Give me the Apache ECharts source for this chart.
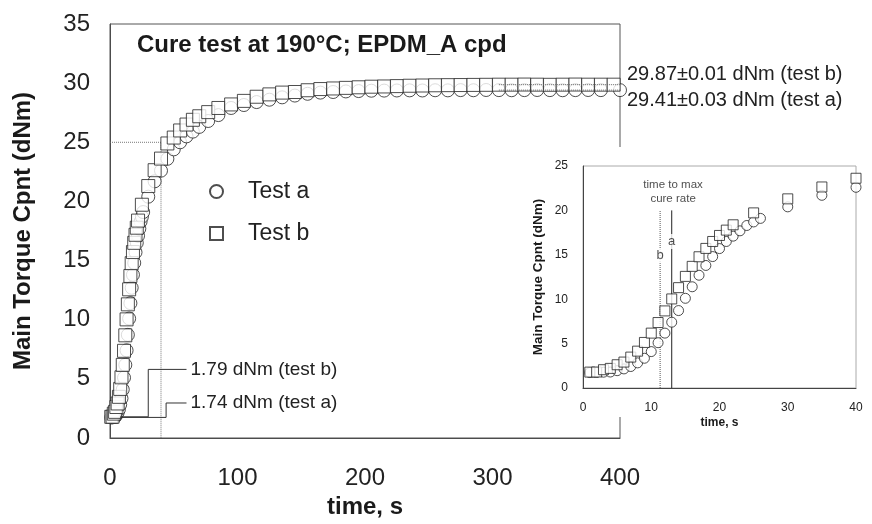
<!DOCTYPE html>
<html><head><meta charset="utf-8">
<script src="https://cdn.jsdelivr.net/npm/echarts@6/dist/echarts.min.js"></script>
<style>html,body{margin:0;padding:0;background:#fff}#c{width:872px;height:524px}</style>
</head><body><div id="c"></div>
<script>
// ---- Test a (circles), 1 s sampling during the rise (also shown in inset)
const timeA_early = [1,2,3,4,5,6,7,8,9,10,11,12,13,14,15,16,17,18,19,20,21,22,23,24,25,26,30,35,40];
const torqueA_early = [1.74,1.75,1.78,1.80,1.95,2.15,2.42,2.83,3.35,4.10,5.10,6.18,7.41,8.72,10.1,11.4,12.7,13.8,14.8,15.7,16.5,17.1,17.7,18.3,18.7,19.1,20.4,21.7,22.6];
// ---- Test b (squares), 1 s sampling during the rise
const timeB_early = [1,2,3,4,5,6,7,8,9,10,11,12,13,14,15,16,17,18,19,20,21,22,25,30,35,40];
const torqueB_early = [1.79,1.80,2.06,2.21,2.62,2.92,3.48,4.15,5.13,6.18,7.37,8.68,10.03,11.30,12.57,13.70,14.78,15.72,16.50,17.18,17.78,18.38,19.72,21.30,22.64,23.62];
// ---- later part of the cure curves
const timeA_late = [45,50,55,60,65,70,77,85,95,105,115,125,135,145,155,165,175,185,195,205,215,225,235,245,255,265,275,285,295,305,315,325,335,345,355,365,375,385,400];
const torqueA_late = [23.6,24.4,25.0,25.5,25.9,26.3,26.8,27.3,27.9,28.15,28.4,28.6,28.8,28.95,29.1,29.2,29.25,29.3,29.33,29.36,29.37,29.38,29.39,29.38,29.40,29.39,29.41,29.40,29.42,29.41,29.40,29.41,29.42,29.41,29.40,29.41,29.42,29.41,29.41];
const timeB_late = [45,50,55,60,65,70,77,85,95,105,115,125,135,145,155,165,175,185,195,205,215,225,235,245,255,265,275,285,295,305,315,325,335,345,355,365,375,385,395];
const torqueB_late = [24.9,25.4,26.0,26.5,26.9,27.2,27.55,27.9,28.2,28.5,28.85,29.05,29.2,29.25,29.4,29.5,29.55,29.6,29.65,29.7,29.72,29.75,29.78,29.8,29.82,29.83,29.84,29.85,29.86,29.87,29.87,29.88,29.87,29.86,29.87,29.88,29.87,29.87,29.87];
// ---- annotation values
const minA = 1.74, minB = 1.79;
const maxA = 29.41, maxB = 29.87;
const tMaxRateA = 13.0, tMaxRateB = 11.3;
// ---- tick labels
const mainXTicks = [0,100,200,300,400];
const mainYTicks = [0,5,10,15,20,25,30,35];
const insetXTicks = [0,10,20,30,40];
const insetYTicks = [0,5,10,15,20,25];

const FONT = '"Liberation Sans", Arial, Helvetica, sans-serif';
const zip = (t, v) => t.map((x, i) => [x, v[i]]);
const mainA = zip(timeA_early.concat(timeA_late), torqueA_early.concat(torqueA_late));
const mainB = zip(timeB_early.concat(timeB_late), torqueB_early.concat(torqueB_late));
const insetA = zip(timeA_early, torqueA_early);
const insetB = zip(timeB_early, torqueB_early);

const markerStyle = {color:'#fff', borderColor:'#222', borderWidth:1};
const chart = echarts.init(document.getElementById('c'), null, {renderer:'canvas'});

function axisCommon(ticks, fs, margin) {
  return {
    type:'value', min:ticks[0], max:ticks[ticks.length-1], interval:ticks[1]-ticks[0],
    axisLine:{show:true, lineStyle:{color:'#444', width:1}},
    axisTick:{show:false}, splitLine:{show:false},
    axisLabel:{fontSize:fs, margin:margin, color:'#222', fontFamily:FONT}
  };
}

const option = {
  animation:false,
  backgroundColor:'#fff',
  textStyle:{fontFamily:FONT, color:'#222'},
  title:{text:'Cure test at 190°C; EPDM_A cpd', left:137, top:33, padding:0,
    textStyle:{fontSize:24, fontWeight:'bold', color:'#1a1a1a', fontFamily:FONT}},
  legend:{orient:'vertical', left:209, top:180, padding:0, itemWidth:13, itemHeight:13, itemGap:19,
    selectedMode:false, data:['Test a','Test b'],
    textStyle:{fontSize:23, color:'#222', fontFamily:FONT, padding:[0,0,0,20]}},
  grid:[
    {left:110, right:252, top:24, bottom:82, show:true, borderColor:'#555', borderWidth:1, z:2},
    {left:583, width:273, top:166, height:222, show:true, borderColor:'#aaa', borderWidth:1, backgroundColor:'#fff', z:4}
  ],
  graphic:[{type:'rect', shape:{x:600, y:147, width:40, height:270}, style:{fill:'#fff'}, z:3}],
  xAxis:[
    Object.assign(axisCommon(mainXTicks, 24, 28), {gridIndex:0, name:'time, s', nameLocation:'middle', nameGap:57,
      nameTextStyle:{fontSize:24, fontWeight:'bold', color:'#1a1a1a', fontFamily:FONT}}),
    Object.assign(axisCommon(insetXTicks, 12, 14), {gridIndex:1, z:5, name:'time, s', nameLocation:'middle', nameGap:29,
      nameTextStyle:{fontSize:12, fontWeight:'bold', color:'#1a1a1a', fontFamily:FONT}})
  ],
  yAxis:[
    Object.assign(axisCommon(mainYTicks, 24, 20), {gridIndex:0, name:'Main Torque Cpnt (dNm)', nameLocation:'middle', nameGap:75,
      nameTextStyle:{fontSize:24, fontWeight:'bold', color:'#1a1a1a', fontFamily:FONT}}),
    Object.assign(axisCommon(insetYTicks, 12, 15), {gridIndex:1, z:5, name:'Main Torque Cpnt (dNm)', nameLocation:'middle', nameGap:38,
      nameTextStyle:{fontSize:13.5, fontWeight:'bold', color:'#1a1a1a', fontFamily:FONT}})
  ],
  series:[
    // guide for inset region
    {type:'line', xAxisIndex:0, yAxisIndex:0, data:[[0,25],[40,25],[40,0]], symbol:'none', silent:true, z:1,
      lineStyle:{color:'#777', width:1, type:'dotted'}},
    // main data
    {name:'Test a', type:'scatter', xAxisIndex:0, yAxisIndex:0, data:mainA, symbol:'circle', symbolSize:13, itemStyle:markerStyle, z:2},
    {name:'Test b', type:'scatter', xAxisIndex:0, yAxisIndex:0, data:mainB, symbol:'rect', symbolSize:13, itemStyle:markerStyle, z:2},
    // plateau annotations
    {type:'line', xAxisIndex:0, yAxisIndex:0, clip:false, data:[[305,maxB],[429,maxB]], symbol:'none', silent:true, z:3,
      lineStyle:{color:'#666', width:1, type:'dotted'},
      endLabel:{show:true, formatter:maxB.toFixed(2)+'±0.01 dNm (test b)', distance:6, offset:[0,-10], fontSize:20, color:'#222', fontFamily:FONT}},
    {type:'line', xAxisIndex:0, yAxisIndex:0, clip:false, data:[[305,maxA],[429,maxA]], symbol:'none', silent:true, z:3,
      lineStyle:{color:'#666', width:1, type:'dotted'},
      endLabel:{show:true, formatter:maxA.toFixed(2)+'±0.03 dNm (test a)', distance:6, offset:[0,10], fontSize:20, color:'#222', fontFamily:FONT}},
    // minimum torque leaders
    {type:'line', xAxisIndex:0, yAxisIndex:0, data:[[8,minB],[30,minB],[30,5.8],[60,5.8]], symbol:'none', silent:true, z:3,
      lineStyle:{color:'#333', width:1},
      endLabel:{show:true, formatter:minB.toFixed(2)+' dNm (test b)', distance:4, fontSize:19, color:'#222', fontFamily:FONT}},
    {type:'line', xAxisIndex:0, yAxisIndex:0, data:[[8,minA],[44,minA],[44,2.96],[60,2.96]], symbol:'none', silent:true, z:3,
      lineStyle:{color:'#333', width:1},
      endLabel:{show:true, formatter:minA.toFixed(2)+' dNm (test a)', distance:4, fontSize:19, color:'#222', fontFamily:FONT}},
    // inset: time to max cure rate lines
    {type:'line', xAxisIndex:1, yAxisIndex:1, data:[[tMaxRateB,0],[tMaxRateB,20]], symbol:'none', silent:true, z:6,
      lineStyle:{color:'#555', width:1, type:'dotted'}},
    {type:'line', xAxisIndex:1, yAxisIndex:1, data:[[tMaxRateA,0],[tMaxRateA,20]], symbol:'none', silent:true, z:6,
      lineStyle:{color:'#222', width:1}},
    // inset data
    {name:'Test a', type:'scatter', xAxisIndex:1, yAxisIndex:1, data:insetA, symbol:'circle', symbolSize:10, itemStyle:markerStyle, z:7},
    {name:'Test b', type:'scatter', xAxisIndex:1, yAxisIndex:1, data:insetB, symbol:'rect', symbolSize:10, itemStyle:markerStyle, z:7},
    // inset text labels
    {type:'scatter', xAxisIndex:1, yAxisIndex:1, silent:true, z:8, symbolSize:1, itemStyle:{color:'rgba(0,0,0,0)'},
      data:[[tMaxRateB,14.9,'b'],[tMaxRateA,16.5,'a']],
      label:{show:true, position:'inside', formatter:p=>p.data[2], fontSize:13, color:'#222', backgroundColor:'#fff', padding:[1,1], fontFamily:FONT}},
    {type:'scatter', xAxisIndex:1, yAxisIndex:1, silent:true, z:8, symbolSize:1, itemStyle:{color:'rgba(0,0,0,0)'},
      data:[[13.2,22.1]],
      label:{show:true, position:'inside', formatter:'time to max\ncure rate', fontSize:11.5, lineHeight:14, align:'center', color:'#222', fontFamily:FONT}}
  ]
};
chart.setOption(option);
</script>
</body></html>
